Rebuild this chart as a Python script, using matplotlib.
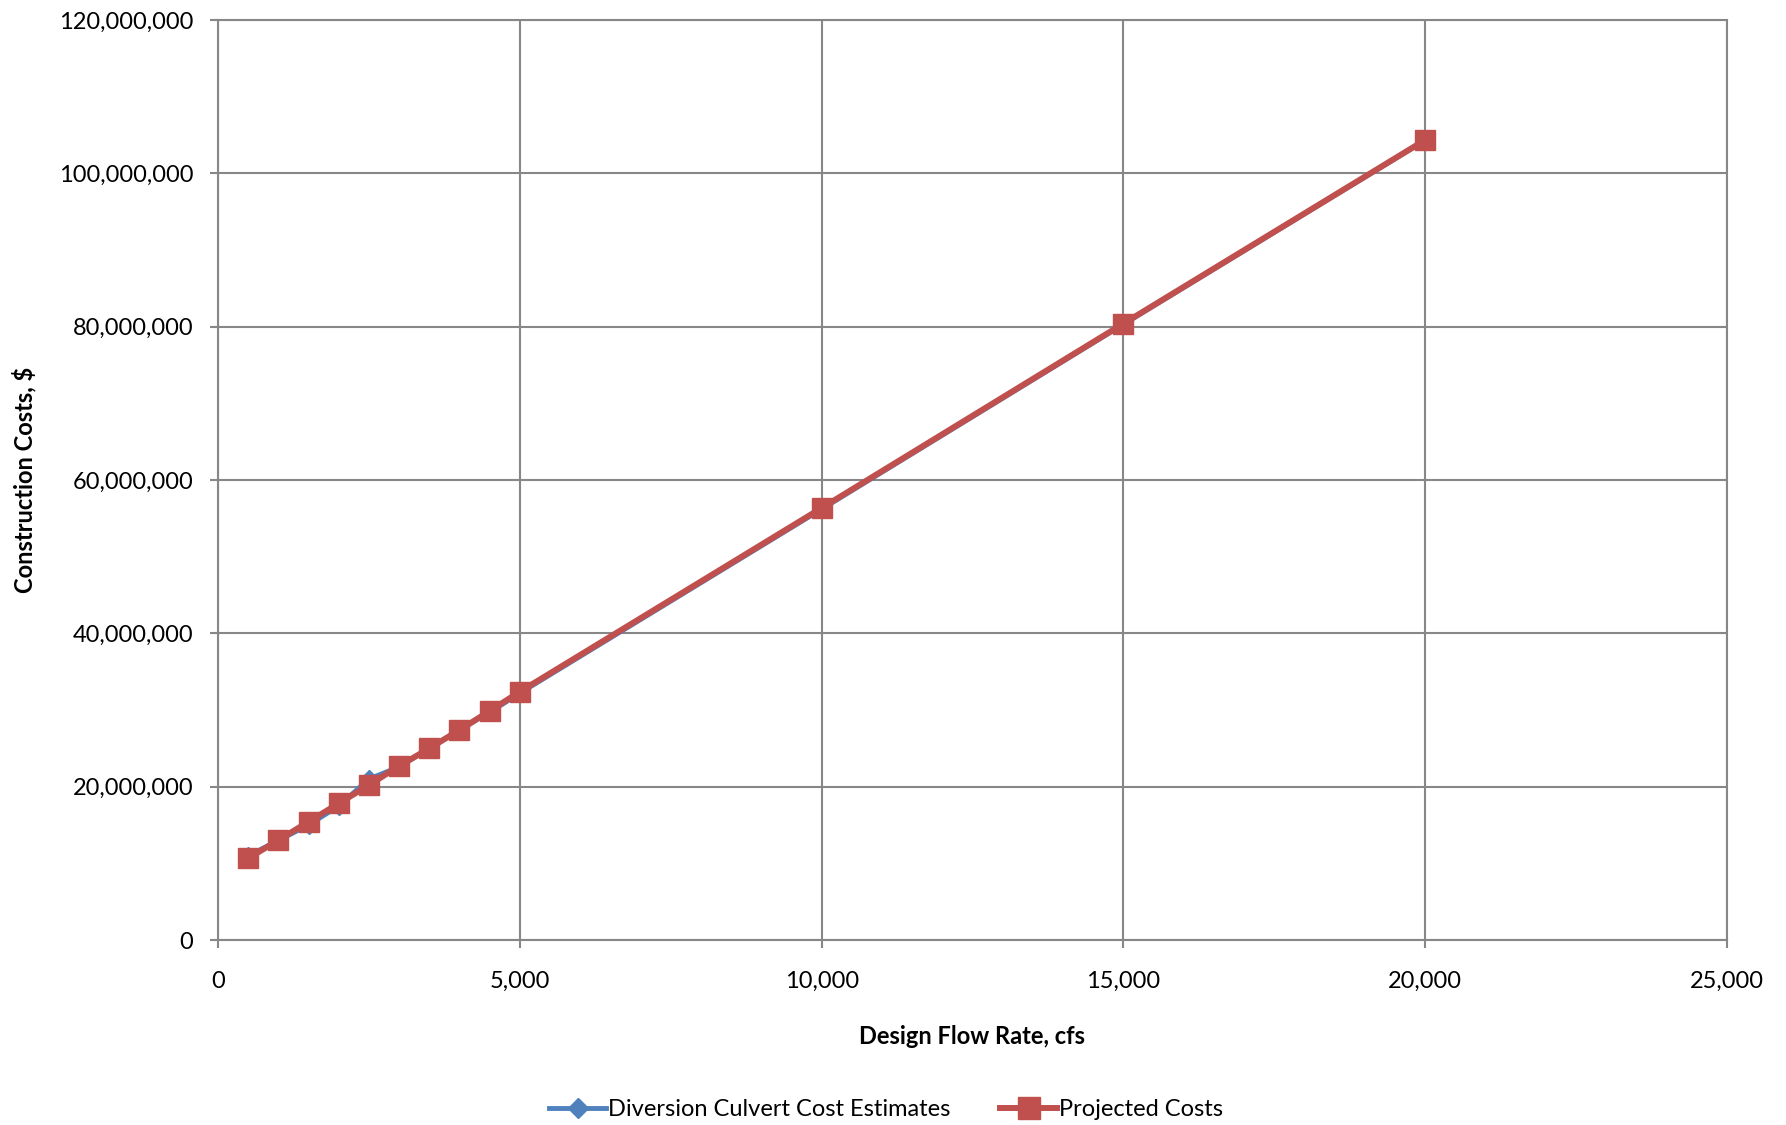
import matplotlib.pyplot as plt
from matplotlib.ticker import FuncFormatter, MultipleLocator

plt.rcParams['font.family'] = ['Lato', 'DejaVu Sans']

# design flow rate, cfs
flow = [500, 1000, 1500, 2000, 2500, 3000, 3500, 4000, 4500, 5000, 10000, 15000, 20000]

# construction cost, $
culvert_est = [11.0e6, 13.0e6, 15.0e6, 17.5e6, 21.0e6, 22.6e6, 25.0e6, 27.4e6,
               29.7e6, 32.2e6, 56.2e6, 80.3e6, 104.3e6]
projected = [10.66e6, 13.04e6, 15.43e6, 17.83e6, 20.22e6, 22.7e6, 25.0e6, 27.4e6,
             29.87e6, 32.39e6, 56.35e6, 80.4e6, 104.35e6]

grid_c = '#878787'
fs = 17

fig = plt.figure(figsize=(17.86, 11.25), dpi=100)
ax = fig.add_axes([0.1221, 0.1644, 0.8448, 0.8178])

ax.plot(flow, culvert_est, color='#4F81BD', lw=3.5, marker='D', ms=9.5,
        label='Diversion Culvert Cost Estimates', zorder=3)
ax.plot(flow, projected, color='#C0504D', lw=4.3, marker='s', ms=14,
        label='Projected Costs', zorder=4)

ax.set_xlim(0, 25000)
ax.set_ylim(0, 120e6)
ax.xaxis.set_major_locator(MultipleLocator(5000))
ax.yaxis.set_major_locator(MultipleLocator(20e6))
fmt = FuncFormatter(lambda v, p: f'{v:,.0f}')
ax.xaxis.set_major_formatter(fmt)
ax.yaxis.set_major_formatter(fmt)

ax.grid(True, color=grid_c, lw=1.5)
ax.set_axisbelow(True)
for s in ax.spines.values():
    s.set_color(grid_c)
    s.set_linewidth(1.5)
ax.tick_params(colors=grid_c, labelcolor='black', labelsize=fs, length=6, width=1.5)
ax.tick_params(axis='x', pad=16)
ax.tick_params(axis='y', pad=12)

ax.set_xlabel('Design Flow Rate, cfs', fontsize=fs, fontweight='bold', labelpad=24)
ax.set_ylabel('Construction Costs, $', fontsize=fs, fontweight='bold', labelpad=16)

ax.legend(loc='center', bbox_to_anchor=(0.443, -0.1845), ncol=2, frameon=False,
          fontsize=fs, handlelength=2.4, handletextpad=0.1, columnspacing=2.1,
          markerscale=1.1)

fig.savefig('out.png', dpi=100)
